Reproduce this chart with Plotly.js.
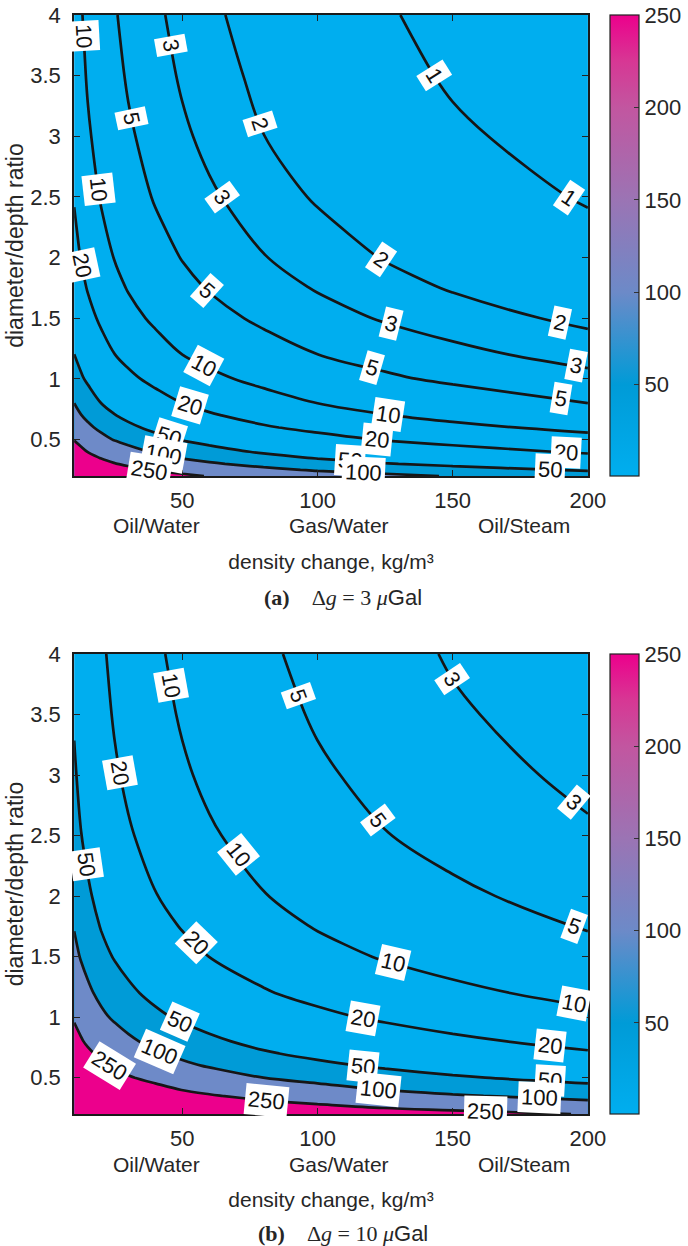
<!DOCTYPE html>
<html>
<head>
<meta charset="utf-8">
<script src="https://cdn.plot.ly/plotly-3.0.1.min.js"></script>
<style>
  html, body { margin: 0; padding: 0; background: #ffffff; }
  #chart { width: 688px; height: 1246px; }
</style>
</head>
<body>
<div id="chart"></div>
<script>
// ---------------- data ----------------
// density change, kg/m^3 (grid columns)
var densityChange = [10, 12.5, 15, 20, 25, 30, 40, 50, 60, 80, 100, 125, 150, 200];
// diameter/depth ratio (grid rows)
var diameterDepth = [0.2, 0.25, 0.3, 0.35, 0.4, 0.5, 0.6, 0.7, 0.8, 1.0, 1.2, 1.5, 1.75, 2.0, 2.5, 3.0, 3.5, 4.0];

// panel (a): delta g = 3 microGal
var zA = [
  [1441.7, 1153.4, 961.1, 720.9, 576.7, 480.6, 360.4, 288.3, 240.3, 180.2, 144.2, 115.3, 96.1, 72.1],
  [926.6, 741.3, 617.7, 463.3, 370.6, 308.9, 231.7, 185.3, 154.4, 115.8, 92.7, 74.1, 61.8, 46.3],
  [646.7, 517.4, 431.1, 323.4, 258.7, 215.6, 161.7, 129.3, 107.8, 80.8, 64.7, 51.7, 43.1, 32.3],
  [478.0, 382.4, 318.7, 239.0, 191.2, 159.3, 119.5, 95.6, 79.7, 59.8, 47.8, 38.2, 31.9, 23.9],
  [368.5, 294.8, 245.7, 184.3, 147.4, 122.8, 92.1, 73.7, 61.4, 46.1, 36.9, 29.5, 24.6, 18.4],
  [239.6, 191.7, 159.7, 119.8, 95.8, 79.9, 59.9, 47.9, 39.9, 30.0, 24.0, 19.2, 16.0, 12.0],
  [169.6, 135.7, 113.1, 84.8, 67.9, 56.5, 42.4, 33.9, 28.3, 21.2, 17.0, 13.6, 11.3, 8.48],
  [127.4, 101.9, 85.0, 63.7, 51.0, 42.5, 31.9, 25.5, 21.2, 15.9, 12.7, 10.2, 8.50, 6.37],
  [100.0, 80.0, 66.7, 50.0, 40.0, 33.3, 25.0, 20.0, 16.7, 12.5, 10.0, 8.00, 6.67, 5.00],
  [67.8, 54.2, 45.2, 33.9, 27.1, 22.6, 16.9, 13.6, 11.3, 8.47, 6.78, 5.42, 4.52, 3.39],
  [50.2, 40.2, 33.5, 25.1, 20.1, 16.7, 12.6, 10.0, 8.37, 6.28, 5.02, 4.02, 3.35, 2.51],
  [35.8, 28.6, 23.9, 17.9, 14.3, 11.9, 8.94, 7.16, 5.96, 4.47, 3.58, 2.86, 2.39, 1.79],
  [28.9, 23.1, 19.3, 14.5, 11.6, 9.64, 7.23, 5.78, 4.82, 3.62, 2.89, 2.31, 1.93, 1.45],
  [24.4, 19.5, 16.3, 12.2, 9.77, 8.14, 6.11, 4.89, 4.07, 3.05, 2.44, 1.95, 1.63, 1.22],
  [19.1, 15.2, 12.7, 9.53, 7.62, 6.35, 4.77, 3.81, 3.18, 2.38, 1.91, 1.52, 1.27, 0.953],
  [16.1, 12.9, 10.7, 8.04, 6.43, 5.36, 4.02, 3.21, 2.68, 2.01, 1.61, 1.29, 1.07, 0.804],
  [14.2, 11.4, 9.47, 7.10, 5.68, 4.73, 3.55, 2.84, 2.37, 1.78, 1.42, 1.14, 0.947, 0.710],
  [12.9, 10.4, 8.63, 6.47, 5.18, 4.31, 3.24, 2.59, 2.16, 1.62, 1.29, 1.04, 0.863, 0.647]
];

// panel (b): delta g = 10 microGal
var zB = [
  [4806, 3845, 3204, 2403, 1922, 1602, 1201, 961, 801, 601, 481, 384, 320, 240],
  [3089, 2471, 2059, 1544, 1235, 1030, 772, 618, 515, 386, 309, 247, 206, 154],
  [2156, 1725, 1437, 1078, 862, 719, 539, 431, 359, 269, 216, 172, 144, 108],
  [1593, 1275, 1062, 797, 637, 531, 398, 319, 266, 199, 159, 127, 106, 79.7],
  [1228, 983, 819, 614, 491, 409, 307, 246, 205, 154, 123, 98.3, 81.9, 61.4],
  [799, 639, 532, 399, 319, 266, 200, 160, 133, 99.8, 79.9, 63.9, 53.2, 39.9],
  [566, 452, 377, 283, 226, 189, 141, 113, 94.3, 70.7, 56.6, 45.2, 37.7, 28.3],
  [425, 340, 283, 212, 170, 142, 106, 85.0, 70.8, 53.1, 42.5, 34.0, 28.3, 21.2],
  [333, 267, 222, 167, 133, 111, 83.4, 66.7, 55.6, 41.7, 33.3, 26.7, 22.2, 16.7],
  [226, 181, 151, 113, 90.4, 75.3, 56.5, 45.2, 37.7, 28.2, 22.6, 18.1, 15.1, 11.3],
  [167, 134, 112, 83.7, 67.0, 55.8, 41.9, 33.5, 27.9, 20.9, 16.7, 13.4, 11.2, 8.37],
  [119, 95.4, 79.5, 59.6, 47.7, 39.8, 29.8, 23.9, 19.9, 14.9, 11.9, 9.54, 7.95, 5.96],
  [96.4, 77.1, 64.3, 48.2, 38.6, 32.1, 24.1, 19.3, 16.1, 12.1, 9.64, 7.71, 6.43, 4.82],
  [81.4, 65.1, 54.3, 40.7, 32.6, 27.1, 20.4, 16.3, 13.6, 10.2, 8.14, 6.51, 5.43, 4.07],
  [63.5, 50.8, 42.4, 31.8, 25.4, 21.2, 15.9, 12.7, 10.6, 7.94, 6.35, 5.08, 4.24, 3.18],
  [53.6, 42.9, 35.7, 26.8, 21.4, 17.9, 13.4, 10.7, 8.93, 6.70, 5.36, 4.29, 3.57, 2.68],
  [47.3, 37.9, 31.6, 23.7, 18.9, 15.8, 11.8, 9.47, 7.89, 5.92, 4.73, 3.79, 3.16, 2.37],
  [43.1, 34.5, 28.8, 21.6, 17.3, 14.4, 10.8, 8.63, 7.19, 5.39, 4.31, 3.45, 2.88, 2.16]
];

var levelsA = [1, 2, 3, 5, 10, 20, 50, 100, 250];
var levelsB = [3, 5, 10, 20, 50, 100, 250];
var fillLevels = [50, 100, 250];
var colorRange = [0.65, 250];
var xTickVals = [50, 100, 150, 200];
var cbTickVals = [50, 100, 150, 200, 250];
var fluidPairs = ['Oil/Water', 'Gas/Water', 'Oil/Steam'];
var fluidPairX = [40.5, 108, 176.5];
var captionA = ['(a)', '3'];
var captionB = ['(b)', '10'];

// ---------------- contour-label placement (level, anchor axis, anchor value) ----------------
// the other coordinate of each label is solved on the data grid
var labelSpotsA = [
  [1, 'y', 3.5], [1, 'x', 193],
  [2, 'y', 3.1], [2, 'x', 123.6], [2, 'x', 189.5],
  [3, 'y', 3.75], [3, 'y', 2.5], [3, 'x', 127], [3, 'x', 195.5],
  [5, 'y', 3.15], [5, 'y', 1.73], [5, 'x', 120], [5, 'x', 190],
  [10, 'y', 3.83], [10, 'y', 2.56], [10, 'x', 58], [10, 'x', 126],
  [20, 'y', 1.94], [20, 'x', 53], [20, 'x', 122], [20, 'x', 192],
  [50, 'x', 45], [50, 'x', 112], [50, 'x', 186],
  [100, 'x', 43], [100, 'x', 117],
  [250, 'x', 38]
];
var labelSpotsB = [
  [3, 'y', 3.79], [3, 'x', 195],
  [5, 'y', 3.66], [5, 'x', 122.5], [5, 'x', 195],
  [10, 'y', 3.74], [10, 'y', 2.34], [10, 'x', 128], [10, 'x', 195],
  [20, 'y', 3.02], [20, 'x', 55], [20, 'x', 117], [20, 'x', 186],
  [50, 'y', 2.26], [50, 'x', 49], [50, 'x', 117], [50, 'x', 186],
  [100, 'x', 41.5], [100, 'x', 122.5], [100, 'x', 182],
  [250, 'x', 23], [250, 'x', 81], [250, 'x', 162]
];

// ---------------- styles ----------------
var SANS = 'Liberation Sans, Arial, Helvetica, sans-serif';
var SERIF = 'Liberation Serif, DejaVu Serif, serif';
var TXT = '#262626';
var LINE = '#161616';
var fillColors = { 50: '#009bd7', 100: '#6e8ac8', 250: '#ec008c' };
var colorscale = [
  [0.0, 'rgb(0,174,239)'],
  [0.198, 'rgb(0,155,215)'],
  [0.398, 'rgb(108,138,200)'],
  [0.599, 'rgb(155,116,180)'],
  [0.799, 'rgb(194,86,160)'],
  [0.90, 'rgb(215,55,148)'],
  [1.0, 'rgb(236,0,140)']
];

var W = 688, H = 1246;
function pxY(p) { return 1 - p / H; }
var domA = [pxY(476), pxY(15)];
var domB = [pxY(1114), pxY(654)];
var xDom = [74.5 / W, 590.5 / W];
var X_RANGE = [10, 200], Y_RANGE = [0.2, 4];

function panelTraces(z, levels, xa, ya, cbY, cbLen) {
  var tr = [];
  fillLevels.forEach(function (L) {
    // '<' keeps the region below L; the masked region (z > L) is filled
    tr.push({
      type: 'contour', x: densityChange, y: diameterDepth, z: z,
      xaxis: xa, yaxis: ya,
      contours: { type: 'constraint', operation: '<', value: L },
      fillcolor: fillColors[L],
      line: { width: 0, smoothing: 1 },
      showscale: false, hoverinfo: 'skip', showlegend: false
    });
  });
  levels.forEach(function (L) {
    tr.push({
      type: 'contour', x: densityChange, y: diameterDepth, z: z,
      xaxis: xa, yaxis: ya,
      autocontour: false,
      contours: { start: L, end: L, size: 1, coloring: 'none', showlabels: false },
      line: { color: LINE, width: 2.7, smoothing: 1 },
      showscale: false, hoverinfo: 'skip', showlegend: false
    });
  });
  tr.push({
    type: 'scatter', mode: 'markers', x: [100, 100], y: [2, 2],
    xaxis: xa, yaxis: ya, hoverinfo: 'skip', showlegend: false,
    marker: {
      size: 1, opacity: 0, color: colorRange, cmin: colorRange[0], cmax: colorRange[1],
      colorscale: colorscale, showscale: true,
      colorbar: {
        x: 613 / W, xanchor: 'left', xpad: 0, ypad: 0,
        y: cbY, yanchor: 'middle', len: cbLen, lenmode: 'fraction',
        thickness: 29, thicknessmode: 'pixels',
        outlinecolor: '#222', outlinewidth: 1.2,
        tickmode: 'array', tickvals: cbTickVals,
        ticks: 'inside', ticklen: 5, tickcolor: '#333', tickwidth: 1,
        tickfont: { family: SANS, size: 22, color: TXT }
      }
    }
  });
  return tr;
}

// bilinear lookup on the data grid (same linear edge interpolation the contour uses)
function findIdx(arr, v) {
  var i = 0;
  while (i < arr.length - 2 && v > arr[i + 1]) i++;
  return i;
}
function zAt(z, xv, yv) {
  var i = findIdx(densityChange, xv), j = findIdx(diameterDepth, yv);
  var x0 = densityChange[i], x1 = densityChange[i + 1];
  var y0 = diameterDepth[j], y1 = diameterDepth[j + 1];
  var tx = (xv - x0) / (x1 - x0), ty = (yv - y0) / (y1 - y0);
  return (1 - tx) * (1 - ty) * z[j][i] + tx * (1 - ty) * z[j][i + 1] +
         (1 - tx) * ty * z[j + 1][i] + tx * ty * z[j + 1][i + 1];
}
function solve(z, L, axis, v) {
  // z decreases along both x and y
  var lo = axis === 'x' ? Y_RANGE[0] : X_RANGE[0];
  var hi = axis === 'x' ? Y_RANGE[1] : X_RANGE[1];
  var f = function (t) { return axis === 'x' ? zAt(z, v, t) - L : zAt(z, t, v) - L; };
  if (f(lo) < 0 || f(hi) > 0) return null;
  for (var k = 0; k < 60; k++) {
    var m = (lo + hi) / 2;
    if (f(m) > 0) lo = m; else hi = m;
  }
  return (lo + hi) / 2;
}

function labelAnnotations(z, spots, xa, ya, dom) {
  var kx = (xDom[1] - xDom[0]) * W / (X_RANGE[1] - X_RANGE[0]);
  var ky = (dom[1] - dom[0]) * H / (Y_RANGE[1] - Y_RANGE[0]);
  var out = [];
  spots.slice().sort(function (a, b) { return a[0] - b[0]; }).forEach(function (s) {
    var L = s[0], axis = s[1], v = s[2];
    var d = axis === 'x' ? 7 / kx : 7 / ky;
    var p0, p1, c = solve(z, L, axis, v);
    if (c === null) return;
    var xc = axis === 'x' ? v : c, yc = axis === 'x' ? c : v;
    var a = solve(z, L, axis, v - d), b = solve(z, L, axis, v + d);
    if (a === null) a = c;
    if (b === null) b = c;
    if (axis === 'x') { p0 = [v - d, a]; p1 = [v + d, b]; }
    else { p0 = [a, v - d]; p1 = [b, v + d]; }
    var dxp = (p1[0] - p0[0]) * kx, dyp = -(p1[1] - p0[1]) * ky;
    var ang = Math.atan2(dyp, dxp) * 180 / Math.PI;
    if (ang > 90) ang -= 180;
    if (ang < -90) ang += 180;
    out.push({
      xref: xa, yref: ya, x: xc, y: yc, text: String(L), textangle: ang,
      showarrow: false, xanchor: 'center', yanchor: 'middle',
      bgcolor: '#ffffff', borderpad: 3, borderwidth: 0,
      font: { family: SANS, size: 22, color: '#111' }
    });
  });
  return out;
}

var data = [].concat(
  panelTraces(zA, levelsA, 'x', 'y', (domA[0] + domA[1]) / 2, domA[1] - domA[0]),
  panelTraces(zB, levelsB, 'x2', 'y2', (domB[0] + domB[1]) / 2, domB[1] - domB[0])
);

function xAxis(anchor) {
  return {
    domain: xDom, anchor: anchor, range: X_RANGE,
    tickmode: 'array', tickvals: xTickVals,
    ticks: 'inside', ticklen: 6, tickcolor: '#222', tickwidth: 1,
    showline: true, linecolor: '#1a1a1a', linewidth: 2, mirror: 'ticks',
    showgrid: false, zeroline: false,
    tickfont: { family: SANS, size: 22, color: TXT }, ticklabelstandoff: 4,
    title: { text: 'density change, kg/m\u00b3\u2002\u2002', font: { family: SANS, size: 21, color: TXT }, standoff: 42 },
    automargin: false
  };
}
function yAxis(anchor, dom) {
  return {
    domain: dom, anchor: anchor, range: Y_RANGE,
    tick0: 0, dtick: 0.5,
    ticks: 'inside', ticklen: 6, tickcolor: '#222', tickwidth: 1,
    showline: true, linecolor: '#1a1a1a', linewidth: 2, mirror: 'ticks',
    showgrid: false, zeroline: false,
    tickfont: { family: SANS, size: 22, color: TXT }, ticklabelstandoff: 7,
    title: { text: 'diameter/depth ratio', font: { family: SANS, size: 23, color: TXT }, standoff: 0 },
    automargin: false
  };
}

function caption(parts, yPx) {
  return {
    xref: 'paper', yref: 'paper', x: 344 / W, y: pxY(yPx), xanchor: 'center', yanchor: 'middle',
    showarrow: false,
    text: '<span style="font-family:' + SERIF + '"><b>' + parts[0] + '</b>\u2002\u2002\u0394<i>g</i> = ' + parts[1] +
          ' <i>\u03bc</i></span>Gal',
    font: { family: SANS, size: 22, color: TXT }
  };
}

var annotations = [];
fluidPairs.forEach(function (name, i) {
  annotations.push({ xref: 'x', yref: 'paper', x: fluidPairX[i], y: pxY(525), text: name,
    showarrow: false, xanchor: 'center', yanchor: 'middle', font: { family: SANS, size: 21, color: TXT } });
  annotations.push({ xref: 'x2', yref: 'paper', x: fluidPairX[i], y: pxY(1164), text: name,
    showarrow: false, xanchor: 'center', yanchor: 'middle', font: { family: SANS, size: 21, color: TXT } });
});
annotations.push(caption(captionA, 597));
annotations.push(caption(captionB, 1233));
annotations = labelAnnotations(zA, labelSpotsA, 'x', 'y', domA)
  .concat(labelAnnotations(zB, labelSpotsB, 'x2', 'y2', domB))
  .concat(annotations);

var layout = {
  width: W, height: H,
  margin: { l: 0, r: 0, t: 0, b: 0, pad: 0 },
  paper_bgcolor: '#ffffff', plot_bgcolor: '#00aeef',
  showlegend: false,
  xaxis: xAxis('y'), yaxis: yAxis('x', domA),
  xaxis2: xAxis('y2'), yaxis2: yAxis('x2', domB),
  annotations: annotations,
  font: { family: SANS, color: TXT }
};

Plotly.newPlot('chart', data, layout, { staticPlot: true, displayModeBar: false });
</script>
</body>
</html>
